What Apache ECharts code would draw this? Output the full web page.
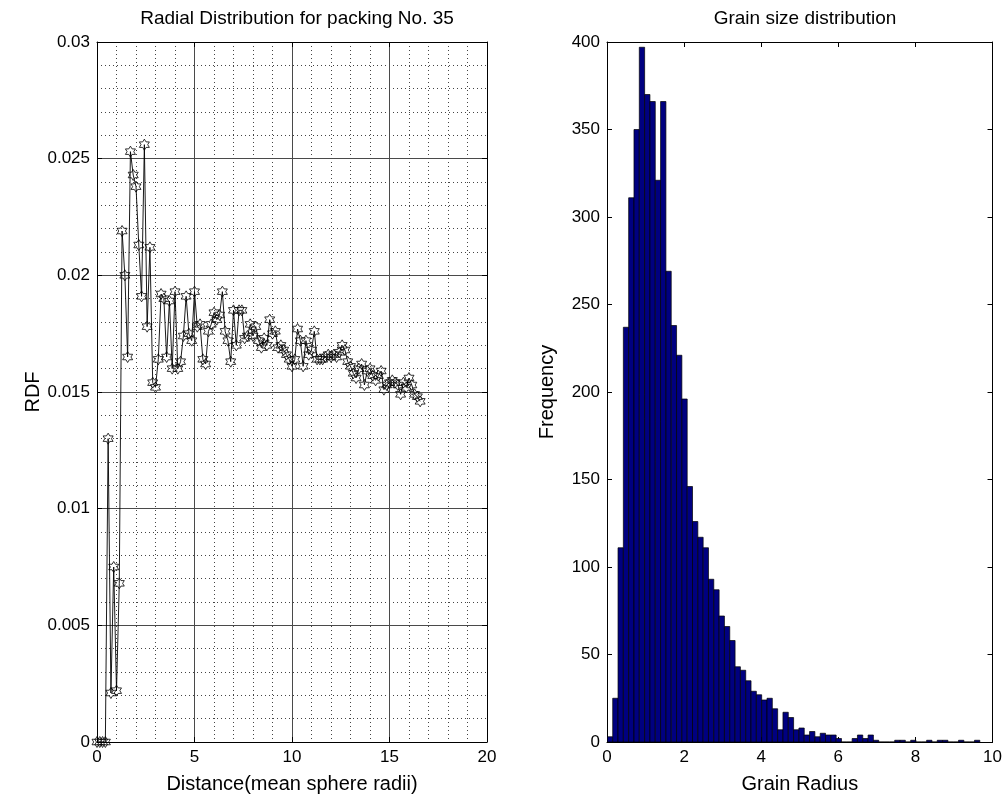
<!DOCTYPE html>
<html>
<head>
<meta charset="utf-8">
<script src="https://cdn.jsdelivr.net/npm/echarts@6/dist/echarts.min.js"></script>
<style>
html,body{margin:0;padding:0;background:#fff;}
#chart{width:1005px;height:799px;}
</style>
</head>
<body>
<div id="chart"></div>
<script>
// ---- Left: radial distribution ----
var leftTitle = 'Radial Distribution for packing No. 35';
var leftXName = 'Distance(mean sphere radii)';
var leftYName = 'RDF';
var distance = [
  0, 0.143, 0.286, 0.429, 0.571, 0.714, 0.857,
  1, 1.143, 1.286, 1.429, 1.571, 1.714, 1.857,
  2, 2.143, 2.286, 2.429, 2.571, 2.714, 2.857,
  3, 3.143, 3.286, 3.429, 3.571, 3.714, 3.857,
  4, 4.143, 4.286, 4.429, 4.571, 4.714, 4.857,
  5, 5.143, 5.286, 5.429, 5.571, 5.714, 5.857,
  6, 6.143, 6.286, 6.429, 6.571, 6.714, 6.857,
  7, 7.143, 7.286, 7.429, 7.571, 7.714, 7.857,
  8, 8.143, 8.286, 8.429, 8.571, 8.714, 8.857,
  9, 9.143, 9.286, 9.429, 9.571, 9.714, 9.857,
  10, 10.143, 10.286, 10.429, 10.571, 10.714, 10.857,
  11, 11.143, 11.286, 11.429, 11.571, 11.714, 11.857,
  12, 12.143, 12.286, 12.429, 12.571, 12.714, 12.857,
  13, 13.143, 13.286, 13.429, 13.571, 13.714, 13.857,
  14, 14.143, 14.286, 14.429, 14.571, 14.714, 14.857,
  15, 15.143, 15.286, 15.429, 15.571, 15.714, 15.857,
  16, 16.143, 16.286, 16.429, 16.571
];
var rdf = [
  0, 0, 0, 0, 0.0130, 0.0021, 0.0075,
  0.0022, 0.0068, 0.0219, 0.0200, 0.0165, 0.0253, 0.0243,
  0.0238, 0.0213, 0.0191, 0.0256, 0.0178, 0.0212, 0.0154,
  0.0152, 0.0164, 0.0192, 0.0190, 0.0165, 0.0189, 0.0160,
  0.0193, 0.0160, 0.0163, 0.0174, 0.0191, 0.0175, 0.0172,
  0.0193, 0.0178, 0.0179, 0.0164, 0.0162, 0.0176, 0.0179,
  0.0184, 0.0181, 0.0183, 0.0193, 0.0176, 0.0172, 0.0163,
  0.0185, 0.0170, 0.0185, 0.0185, 0.0173, 0.0174, 0.0179,
  0.0174, 0.0178, 0.0172, 0.0169, 0.0173, 0.0170, 0.0181,
  0.0175, 0.0176, 0.0169, 0.0170, 0.0168, 0.0166, 0.0164,
  0.0161, 0.0164, 0.0177, 0.0172, 0.0161, 0.0172, 0.0166,
  0.0168, 0.0176, 0.0164, 0.0164, 0.0164, 0.0165, 0.0166,
  0.0165, 0.0166, 0.0165, 0.0167, 0.0170, 0.0168, 0.0163,
  0.0161, 0.0158, 0.0156, 0.0160, 0.0162, 0.0153, 0.0159,
  0.0160, 0.0157, 0.0155, 0.0157, 0.0159, 0.0151, 0.0153,
  0.0154, 0.0155, 0.0154, 0.0153, 0.0149, 0.0154, 0.0152,
  0.0156, 0.0153, 0.0149, 0.0148, 0.0146
];
var leftYTickLabels = ['0', '0.005', '0.01', '0.015', '0.02', '0.025', '0.03'];
var leftXTickLabels = ['0', '5', '10', '15', '20'];

// ---- Right: grain size histogram ----
var rightTitle = 'Grain size distribution';
var rightXName = 'Grain Radius';
var rightYName = 'Frequency';
var grainRadiusMin = 0.01;
var grainRadiusMax = 9.67;
var grainCounts = [
  3, 25, 111, 237, 311, 350, 397, 370, 366, 321,
  366, 269, 238, 221, 196, 146, 126, 117, 111, 93,
  87, 72, 66, 58, 43, 41, 35, 29, 27, 24,
  25, 19, 7, 17, 14, 7, 8, 4, 6, 3,
  5, 4, 4, 2, 0, 0, 2, 4, 2, 4,
  1, 0, 0, 0, 1, 1, 0, 1, 0, 0,
  1, 0, 1, 1, 0, 0, 1, 0, 0, 1
];
var rightXTickLabels = ['0', '2', '4', '6', '8', '10'];
var rightYTickLabels = ['0', '50', '100', '150', '200', '250', '300', '350', '400'];

// build table data from the arrays
var rdfData = distance.map(function (d, i) { return [d, rdf[i]]; });
var nBins = grainCounts.length;
var binW = (grainRadiusMax - grainRadiusMin) / nBins;
var histData = grainCounts.map(function (c, i) {
  return [grainRadiusMin + i * binW, grainRadiusMin + (i + 1) * binW, c];
});

var FONT = 'Liberation Sans, Arial, sans-serif';
var hexagram = 'path://M0,-10 L2.887,-5 L8.66,-5 L5.77,0 L8.66,5 L2.887,5 L0,10 L-2.887,5 L-8.66,5 L-5.77,0 L-8.66,-5 L-2.887,-5 Z';

function mirrorAxis(base, pos) {
  return Object.assign({}, base, {
    position: pos,
    name: '',
    axisLabel: { show: false },
    splitLine: { show: false },
    minorSplitLine: { show: false },
    axisLine: { show: true, onZero: false, lineStyle: { color: '#000', width: 1 } },
    axisTick: { show: true, inside: true, length: 5, lineStyle: { color: '#000' } }
  });
}

var nameStyle = { fontFamily: FONT, fontSize: 20, color: '#000' };
var tickStyle = { fontFamily: FONT, fontSize: 17, color: '#000', margin: 7 };

var lx = {
  type: 'value', gridIndex: 0, min: 0, max: 20, interval: 5, position: 'bottom',
  name: leftXName, nameLocation: 'middle', nameGap: 32,
  nameTextStyle: nameStyle,
  axisLine: { show: true, onZero: false, lineStyle: { color: '#000', width: 1 } },
  axisTick: { show: true, inside: true, length: 5, lineStyle: { color: '#000' } },
  axisLabel: Object.assign({}, tickStyle, {
    formatter: function (v) { return leftXTickLabels[Math.round(v / 5)]; } }),
  splitLine: { show: true, lineStyle: { color: '#4a4a4a', width: 1 } },
  minorTick: { show: false, splitNumber: 5 },
  minorSplitLine: { show: true, lineStyle: { color: '#444', width: 1, type: [1, 3] } }
};
var ly = {
  type: 'value', gridIndex: 0, min: 0, max: 0.03, interval: 0.005, position: 'left',
  name: leftYName, nameLocation: 'middle', nameGap: 54,
  nameTextStyle: nameStyle,
  axisLine: { show: true, onZero: false, lineStyle: { color: '#000', width: 1 } },
  axisTick: { show: true, inside: true, length: 5, lineStyle: { color: '#000' } },
  axisLabel: Object.assign({}, tickStyle, {
    formatter: function (v) { return leftYTickLabels[Math.round(v / 0.005)]; } }),
  splitLine: { show: true, lineStyle: { color: '#4a4a4a', width: 1 } },
  minorTick: { show: false, splitNumber: 5 },
  minorSplitLine: { show: true, lineStyle: { color: '#444', width: 1, type: [1, 3] } }
};
var rx = {
  type: 'value', gridIndex: 1, min: 0, max: 10, interval: 2, position: 'bottom',
  name: rightXName, nameLocation: 'middle', nameGap: 32,
  nameTextStyle: nameStyle,
  axisLine: { show: true, onZero: false, lineStyle: { color: '#000', width: 1 } },
  axisTick: { show: true, inside: true, length: 5, lineStyle: { color: '#000' } },
  axisLabel: Object.assign({}, tickStyle, {
    formatter: function (v) { return rightXTickLabels[Math.round(v / 2)]; } }),
  splitLine: { show: false }
};
var ry = {
  type: 'value', gridIndex: 1, min: 0, max: 400, interval: 50, position: 'left',
  name: rightYName, nameLocation: 'middle', nameGap: 50,
  nameTextStyle: nameStyle,
  axisLine: { show: true, onZero: false, lineStyle: { color: '#000', width: 1 } },
  axisTick: { show: true, inside: true, length: 5, lineStyle: { color: '#000' } },
  axisLabel: Object.assign({}, tickStyle, {
    formatter: function (v) { return rightYTickLabels[Math.round(v / 50)]; } }),
  splitLine: { show: false }
};

var titleStyle = { fontFamily: FONT, fontSize: 19, fontWeight: 'normal', color: '#000' };

var option = {
  animation: false,
  backgroundColor: '#fff',
  title: [
    { text: leftTitle, left: 292, top: 4, textAlign: 'center', textStyle: titleStyle },
    { text: rightTitle, left: 800, top: 4, textAlign: 'center', textStyle: titleStyle }
  ],
  grid: [
    { left: 97, width: 390, top: 42, bottom: 54, containLabel: false },
    { left: 607, width: 386, top: 42, bottom: 54, containLabel: false }
  ],
  xAxis: [lx, mirrorAxis(lx, 'top'), rx, mirrorAxis(rx, 'top')],
  yAxis: [ly, mirrorAxis(ly, 'right'), ry, mirrorAxis(ry, 'right')],
  series: [
    {
      type: 'line', xAxisIndex: 0, yAxisIndex: 0, data: rdfData,
      symbol: hexagram, symbolSize: [10, 11], showAllSymbol: true,
      lineStyle: { color: '#000', width: 0.9 },
      itemStyle: { color: 'rgba(255,255,255,0)', borderColor: '#000', borderWidth: 0.8 },
      z: 5
    },
    {
      type: 'custom', xAxisIndex: 2, yAxisIndex: 2, data: histData,
      encode: { x: [0, 1], y: 2 },
      clip: true,
      renderItem: function (params, api) {
        var p0 = api.coord([api.value(0), api.value(2)]);
        var p1 = api.coord([api.value(1), 0]);
        return {
          type: 'rect',
          shape: { x: p0[0], y: p0[1], width: p1[0] - p0[0], height: p1[1] - p0[1] },
          style: { fill: '#000080', stroke: '#000', lineWidth: 0.7 }
        };
      }
    }
  ]
};

var chart = echarts.init(document.getElementById('chart'), null, { renderer: 'canvas' });
chart.setOption(option);
</script>
</body>
</html>
